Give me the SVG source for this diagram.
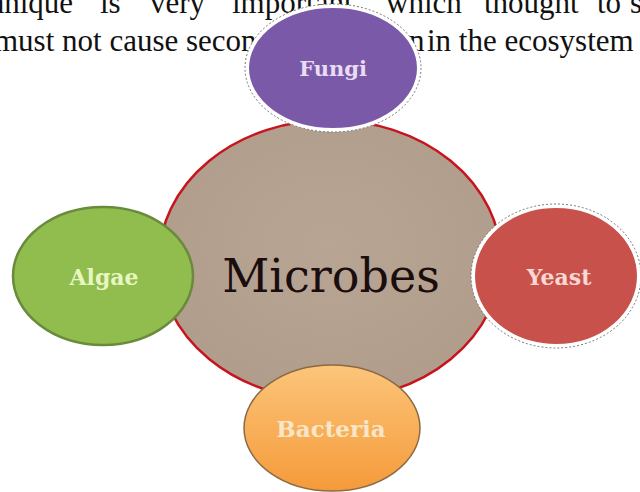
<svg xmlns="http://www.w3.org/2000/svg" width="640" height="492" viewBox="0 0 640 492">
<style>
.body{font-family:"Liberation Serif","Times New Roman",serif;font-size:31px;fill:#111}
.lbl{font-family:"DejaVu Serif",Cambria,serif;font-weight:bold;text-anchor:middle}
.main{font-family:"DejaVu Serif",Cambria,serif;font-size:46px;fill:#1a0d0d;text-anchor:middle}
.ring{stroke:#fff;stroke-width:4}
.ringout{fill:none;stroke:#777;stroke-width:1;stroke-dasharray:2 2}
</style>
<defs>
<linearGradient id="gBac" x1="0" y1="0" x2="0" y2="1">
<stop offset="0" stop-color="#fcc57a"/><stop offset="1" stop-color="#f59a3a"/>
</linearGradient>
<radialGradient id="gMic" cx="0.5" cy="0.45" r="0.6">
<stop offset="0" stop-color="#b8a594"/><stop offset="1" stop-color="#b09c8b"/>
</radialGradient>
</defs>
<g id="page-text">
<text class="body" y="13" font-size="30"><tspan x="-25">chnique</tspan><tspan x="100">is</tspan><tspan x="150">very</tspan><tspan x="232">important,</tspan><tspan x="386">which</tspan><tspan x="484">thought</tspan><tspan x="597">to</tspan><tspan x="630">s</tspan></text>
<text class="body" y="51"><tspan x="-6">must not cause secon</tspan><tspan x="409">n</tspan><tspan x="427">in the ecosystem</tspan></text>
</g>
<g id="connectors"/>
<g id="microbes">
<ellipse cx="330" cy="260" rx="171" ry="140" fill="url(#gMic)" stroke="#c8141e" stroke-width="2.5"/>
<text class="main" x="331" y="292">Microbes</text>
</g>
<g id="algae">
<ellipse cx="103" cy="276" rx="90" ry="69" fill="#90bd4e" stroke="#6a8a3c" stroke-width="2.5"/>
<text class="lbl" x="104" y="285" font-size="22" fill="#e8f6c2">Algae</text>
</g>
<g id="yeast">
<ellipse cx="556" cy="276" rx="83" ry="70" fill="#c8514b" class="ring"/>
<ellipse cx="556" cy="276" rx="85" ry="72" class="ringout"/>
<text class="lbl" x="559" y="285" font-size="22" fill="#f7d8d2">Yeast</text>
</g>
<g id="bacteria">
<ellipse cx="332" cy="428" rx="88" ry="63" fill="url(#gBac)" stroke="#8c6a44" stroke-width="1.5"/>
<text class="lbl" x="331" y="437" font-size="23" fill="#f8e6c8">Bacteria</text>
</g>
<g id="fungi">
<ellipse cx="333" cy="68" rx="86" ry="62" fill="#7a5aa8" class="ring"/>
<ellipse cx="333" cy="68" rx="88" ry="64" class="ringout"/>
<text class="lbl" x="333" y="76" font-size="21" fill="#eadcf4">Fungi</text>
</g>
</svg>
